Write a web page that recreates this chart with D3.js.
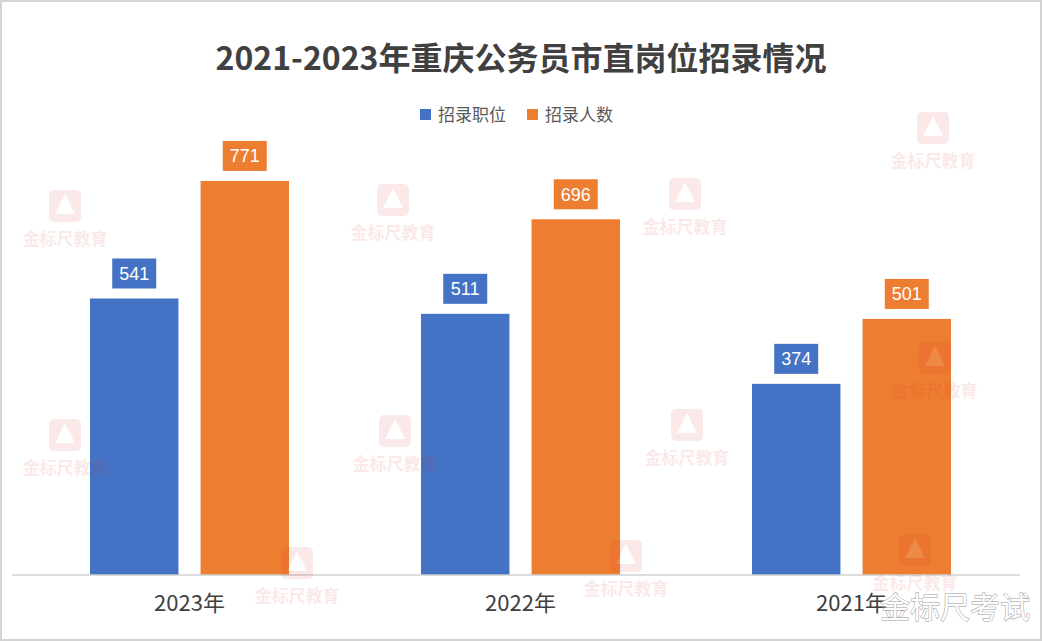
<!DOCTYPE html>
<html><head><meta charset="utf-8">
<script src="https://cdn.jsdelivr.net/npm/d3@7"></script>
<style>body{margin:0;background:#fff}svg{display:block}</style>
</head><body>
<svg id="c" width="1042" height="641"></svg>
<script>
const categories = ["2023年", "2022年", "2021年"];
const seriesNames = ["招录职位", "招录人数"];
const positions = [541, 511, 374];
const people = [771, 696, 501];
const colors = ["#4472c4", "#ed7d31"];
const title = "2021-2023年重庆公务员市直岗位招录情况";

const svg = d3.select("#c");
const W = 1042, H = 641;
const font = "'Noto Sans CJK SC', 'Noto Sans', sans-serif";

svg.append("rect").attr("x",1).attr("y",1).attr("width",W-2).attr("height",H-2)
  .attr("fill","#fff").attr("stroke","#d4d4d4").attr("stroke-width",2);

const x0 = d3.scaleBand().domain(categories).range([24,1017]);
const x1 = d3.scaleBand().domain(seriesNames).range([66,265]).paddingInner(0.2);
const y = d3.scaleLinear().domain([0,900]).range([575,115]);

svg.append("text").attr("x",521).attr("y",70).attr("text-anchor","middle")
  .attr("font-family",font).attr("font-weight","bold").attr("font-size",32).attr("fill","#404040").text(title);

// legend
const legX = [420,527];
seriesNames.forEach((s,i)=>{
  svg.append("rect").attr("x",legX[i]).attr("y",109).attr("width",11).attr("height",11).attr("fill",colors[i]);
  svg.append("text").attr("x",legX[i]+18).attr("y",121).attr("font-family",font).attr("font-size",17)
    .attr("fill","#595959").text(s);
});

const data = categories.map((c,i)=>({c, vals:[positions[i], people[i]]}));
const g = svg.append("g");
data.forEach(d=>{
  d.vals.forEach((v,j)=>{
    const bw = x1.bandwidth();
    const xx = x0(d.c) + x1(seriesNames[j]);
    g.append("rect").attr("x",xx).attr("y",y(v)).attr("width",bw).attr("height",y(0)-y(v)).attr("fill",colors[j]);
    const cx = xx + bw/2;
    g.append("rect").attr("x",cx-22).attr("y",y(v)-40).attr("width",44).attr("height",30).attr("fill",colors[j]);
    g.append("text").attr("x",cx).attr("y",y(v)-18.5).attr("text-anchor","middle")
      .attr("font-family","'Liberation Sans', Arial, sans-serif").attr("font-size",18).attr("fill","#fff").text(v);
  });
});

// axis
const ax = svg.append("g").attr("transform","translate(0,575)")
  .call(d3.axisBottom(x0).tickSize(0).tickPadding(20));
ax.select(".domain").attr("stroke","#d0d0d0").attr("stroke-width",1.5).attr("d","M12,0H1020");
ax.selectAll("text").attr("font-family",font).attr("font-size",22).attr("fill","#404040");

// watermarks (drawn over the chart)
const wm = [[65,238],[393,232],[685,226],[933,160],[65,467],[395,463],[687,457],[935,390],[297,595],[626,588],[915,582]];
const wg = svg.append("g").attr("opacity",0.1);
wm.forEach(([x,yy])=>{
  wg.append("rect").attr("x",x-16).attr("y",yy-48).attr("width",32).attr("height",32).attr("rx",5).attr("fill","#d9302c");
  wg.append("path").attr("d",`M${x},${yy-44} L${x+10},${yy-24} L${x-10},${yy-24} Z`).attr("fill","#fff");
  wg.append("text").attr("x",x).attr("y",yy+7).attr("text-anchor","middle")
    .attr("font-family",font).attr("font-weight","bold").attr("font-size",17).attr("fill","#d9302c").text("金标尺教育");
});

// bottom-right watermark
svg.append("text").attr("x",1030).attr("y",618).attr("text-anchor","end")
  .attr("font-family",font).attr("font-size",30).attr("fill","#fff")
  .attr("stroke","#9a9a9a").attr("stroke-width",1).attr("paint-order","stroke").text("金标尺考试");
</script>
</body></html>
